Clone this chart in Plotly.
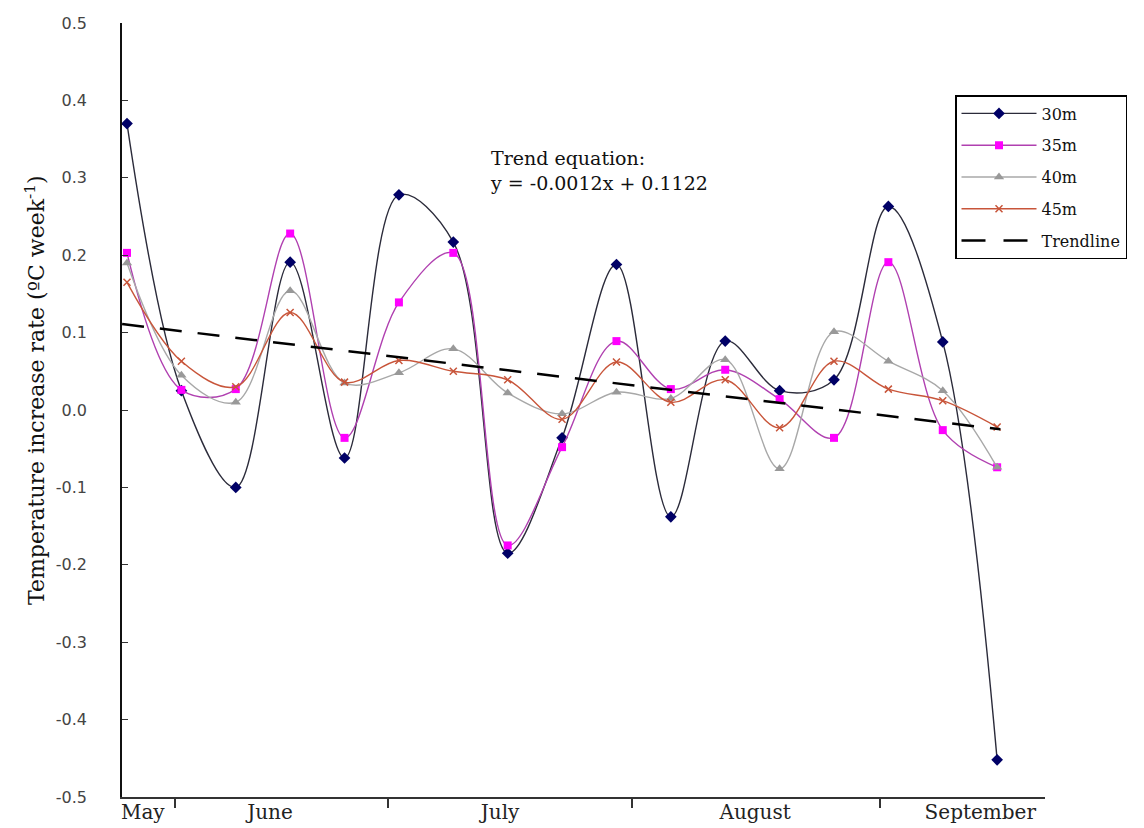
import plotly.graph_objects as go

# ---- data ----
weeks = list(range(17))
s30 = [0.370, 0.025, -0.100, 0.191, -0.062, 0.278, 0.217, -0.185, -0.036, 0.188, -0.138, 0.089, 0.025, 0.039, 0.263, 0.088, -0.452]
s35 = [0.203, 0.026, 0.027, 0.228, -0.036, 0.139, 0.203, -0.175, -0.048, 0.089, 0.027, 0.052, 0.014, -0.036, 0.191, -0.026, -0.074]
s40 = [0.190, 0.045, 0.010, 0.154, 0.035, 0.048, 0.079, 0.022, -0.005, 0.023, 0.015, 0.065, -0.076, 0.101, 0.063, 0.025, -0.074]
s45 = [0.165, 0.063, 0.030, 0.126, 0.036, 0.064, 0.050, 0.039, -0.012, 0.062, 0.010, 0.039, -0.023, 0.063, 0.027, 0.012, -0.022]

trend_x = [-0.09, 16.06]
trend_y = [0.111, -0.025]

month_names = ["May", "June", "July", "August", "September"]
month_centers = [0.29, 2.63, 6.86, 11.55, 15.69]
month_bounds = [0.88, 4.80, 9.29, 13.85]

y_ticks = [0.5, 0.4, 0.3, 0.2, 0.1, 0.0, -0.1, -0.2, -0.3, -0.4, -0.5]
y_tick_text = ["0.5", "0.4", "0.3", "0.2", "0.1", "0.0", "-0.1", "-0.2", "-0.3", "-0.4", "-0.5"]

SERIF = "DejaVu Serif, Liberation Serif, serif"

fig = go.Figure()

series = [
    ("30m", s30, "#2b2b3a", "#000066", "diamond", 9),
    ("35m", s35, "#b040b0", "#ff00ff", "square", 8),
    ("40m", s40, "#a8a8a8", "#999999", "triangle-up", 9),
    ("45m", s45, "#c8553a", "#c8553a", "x-thin-open", 7),
]
for name, vals, lc, mc, sym, ms in series:
    fig.add_trace(go.Scatter(
        x=weeks, y=vals, name=name, mode="lines+markers", legendgroup=name,
        line=dict(color=lc, width=1.4, shape="spline", smoothing=1.0),
        marker=dict(symbol=sym, size=ms, color=mc,
                    line=dict(color=mc, width=1.5 if sym.startswith("x") else 0)),
    ))

fig.add_trace(go.Scatter(
    x=trend_x, y=trend_y, name="Trendline", mode="lines", showlegend=False,
    line=dict(color="black", width=2.5, dash="22px,16px"),
))
# legend entry for the trendline (dash pattern sized for the legend sample)
fig.add_trace(go.Scatter(
    x=[None], y=[None], name="Trendline", mode="lines", legendgroup="Trendline",
    line=dict(color="black", width=2.5, dash="24px,18px"),
))

# invisible trace on secondary x axis to carry month labels
fig.add_trace(go.Scatter(x=[month_centers[0]], y=[None], xaxis="x2", showlegend=False, hoverinfo="skip"))

x_range = [-0.092, 16.88]

# the page body adds an 8px offset; plot area should sit at screen x 122..1045, y 23..797
OFF = 8
fig.update_layout(
    width=1144, height=828,
    margin=dict(l=122 - OFF, r=1144 - 1045 + OFF, t=23 - OFF, b=828 - 797 + OFF, autoexpand=False),
    paper_bgcolor="white", plot_bgcolor="white",
    font=dict(family=SERIF, color="#222"),
    xaxis=dict(
        range=x_range, showgrid=False, zeroline=False, automargin=False,
        showline=True, linecolor="#333", linewidth=2,
        tickmode="array", tickvals=month_bounds, showticklabels=False,
        ticks="outside", ticklen=9, tickcolor="#333", tickwidth=1.5,
    ),
    xaxis2=dict(
        range=x_range, overlaying="x", side="bottom", showgrid=False, zeroline=False,
        showline=False, tickmode="array", tickvals=month_centers, ticktext=month_names,
        ticks="", tickfont=dict(family=SERIF, size=20, color="#222"), ticklabelstandoff=1,
        automargin=False,
    ),
    yaxis=dict(
        range=[-0.5, 0.5], showgrid=False, zeroline=False, automargin=False,
        showline=True, linecolor="#111", linewidth=1.5,
        tickmode="array", tickvals=y_ticks, ticktext=y_tick_text,
        ticks="inside", ticklen=6, tickcolor="#333",
        tickfont=dict(family="DejaVu Sans, sans-serif", size=16, color="#444"),
        ticklabelstandoff=30,
    ),
    legend=dict(
        x=(955 - 122) / 923, y=(797 - 95) / 774, xanchor="left", yanchor="top",
        bgcolor="white", bordercolor="black", borderwidth=1.5,
        font=dict(family=SERIF, size=16, color="#111"),
        tracegroupgap=8, itemwidth=75,
    ),
    showlegend=True,
)

# y-axis title as a rotated annotation (centred where the reference places it)
fig.add_annotation(
    xref="paper", yref="paper", x=(35 - 122) / 923, y=(797 - 390) / 774,
    xanchor="center", yanchor="middle", textangle=-90, showarrow=False,
    text="Temperature increase rate (ºC week<sup>-1</sup>)",
    font=dict(family=SERIF, size=22, color="#111"),
)

fig.add_annotation(
    xref="paper", yref="paper", x=(488 - 122) / 923, y=(797 - 145) / 774,
    xanchor="left", yanchor="top", align="left", showarrow=False,
    text="Trend equation:<br>y = -0.0012x + 0.1122",
    font=dict(family=SERIF, size=19, color="#111"),
)

fig.write_html("out.html")
